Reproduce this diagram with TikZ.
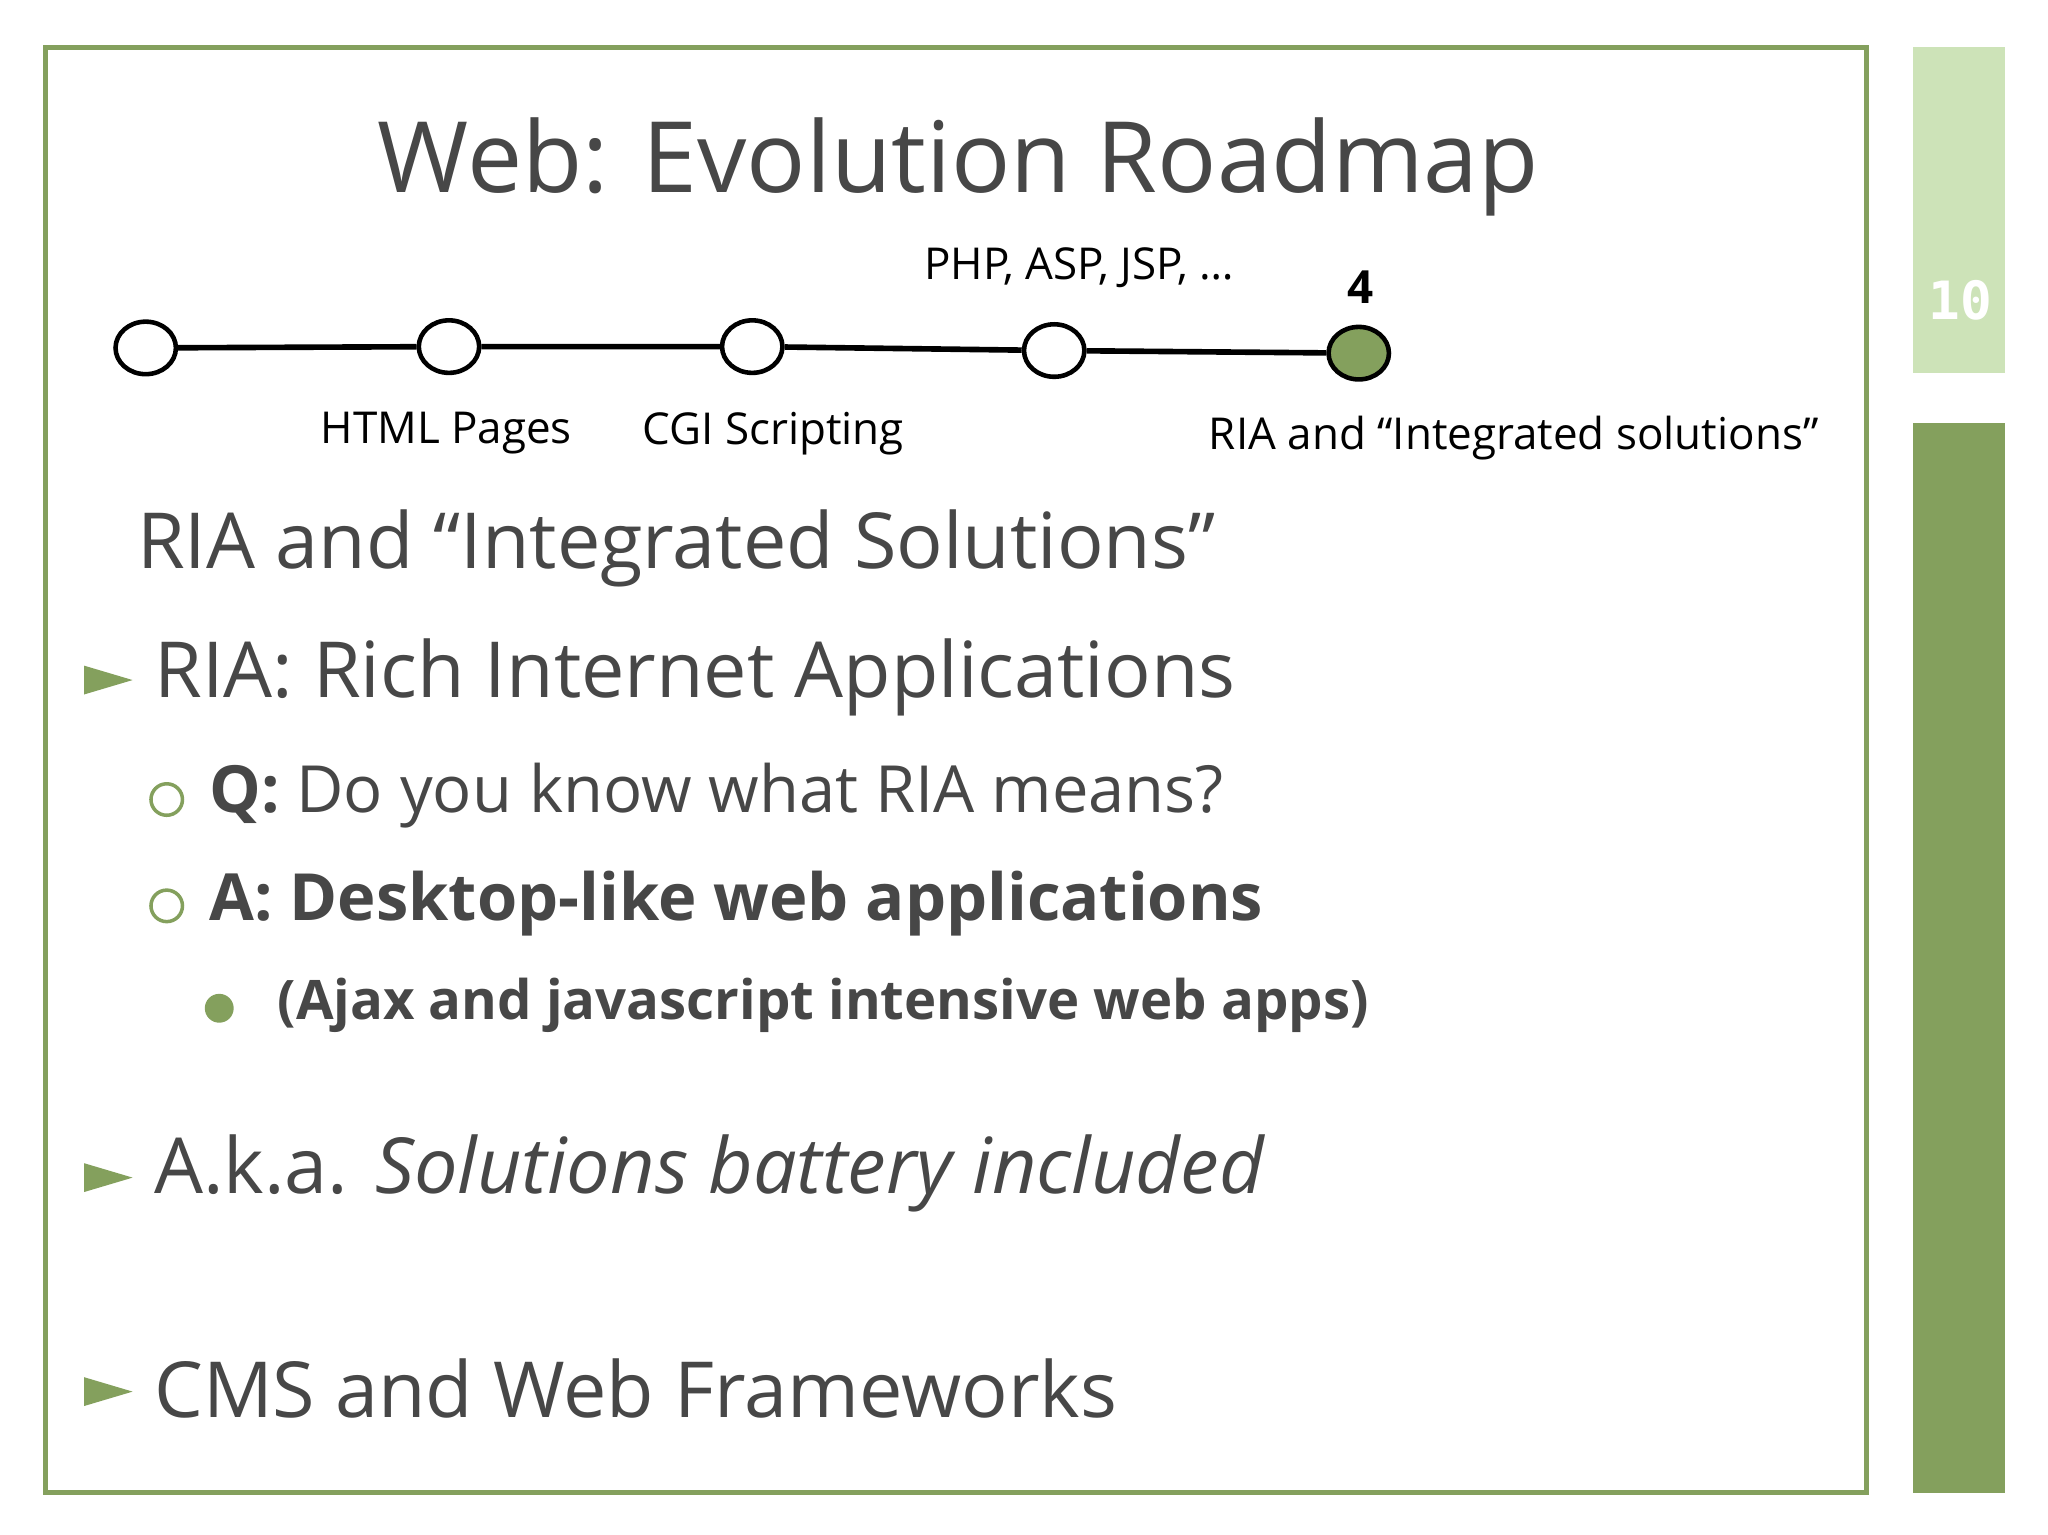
\documentclass[tikz,border=0pt]{standalone}
\usepackage{fontspec}
\usetikzlibrary{shapes.geometric}
\setmainfont{Open Sans}
\newfontfamily\monof{DejaVu Sans Mono}
\definecolor{dg}{HTML}{84A05D}
\definecolor{lg}{HTML}{CDE3B8}
\definecolor{tx}{HTML}{474747}
\begin{document}
\begin{tikzpicture}[x=0.013128cm,y=-0.013128cm,
  dot/.style={draw,line width=1.3pt,ellipse,minimum width=46*0.013128cm,minimum height=40*0.013128cm,inner sep=0,fill=white},
  lab/.style={font=\fontsize{12.5}{14}\selectfont,text=black},
  big/.style={anchor=west,font=\fontsize{22}{26}\selectfont,text=tx},
  mid/.style={anchor=west,font=\fontsize{18.5}{22}\selectfont,text=tx},
  tri/.style={fill=dg,draw=none}]
\useasboundingbox[fill=white] (0,0) rectangle (1560,1169);
\draw[dg,line width=1.4pt] (35,36) rectangle (1422,1137);
\fill[lg] (1457,36) rectangle (1527,284);
\fill[dg] (1457,322) rectangle (1527,1137);
\node[text=white,font=\monof\bfseries\fontsize{15}{18}\selectfont] (pg) at (1493,229) {10};
\node[text=tx,font=\fontsize{28}{32}\selectfont] (title) at (730,127) {Web: Evolution Roadmap};
\node[dot] (c1) at (111,265) {};
\node[dot] (c2) at (342,264) {};
\node[dot] (c3) at (573,264) {};
\node[dot] (c4) at (803,267) {};
\node[dot,fill=dg] (c5) at (1035,269) {};
\draw[line width=1.6pt] (c1)--(c2) (c2)--(c3) (c3)--(c4) (c4)--(c5);
\node[lab] (l2) at (340,330) {HTML Pages};
\node[lab] (l3) at (589,330) {CGI Scripting};
\node[lab] (l4) at (822,204) {PHP, ASP, JSP, …};
\node[lab,font=\bfseries\fontsize{13}{15}\selectfont] (l5n) at (1036,219) {4};
\node[lab] (l5) at (1153,334) {RIA and “Integrated solutions”};
\node[big] (h) at (95,418) {RIA and “Integrated Solutions”};
\fill[tri] (64,507)--(101,518)--(64,529)--cycle;
\node[big] (b1) at (108,516) {RIA: Rich Internet Applications};
\draw[dg,line width=1pt] (127,609) circle (12);
\node[mid] (q) at (150,606) {\textbf{Q:} Do you know what RIA means?};
\draw[dg,line width=1pt] (127,690) circle (12);
\node[mid] (a) at (150,688) {\textbf{A: Desktop-like web applications}};
\fill[dg] (167,768) circle (11);
\node[anchor=west,text=tx,font=\bfseries\fontsize{15.5}{18}\selectfont] (aj) at (202,766) {(Ajax and javascript intensive web apps)};
\fill[tri] (64,886)--(101,897)--(64,908)--cycle;
\node[big] (b2) at (108,894) {A.k.a. \textit{Solutions battery included}};
\fill[tri] (64,1049)--(101,1060)--(64,1071)--cycle;
\node[big] (b3) at (108,1058) {CMS and Web Frameworks};
\end{tikzpicture}
\end{document}
